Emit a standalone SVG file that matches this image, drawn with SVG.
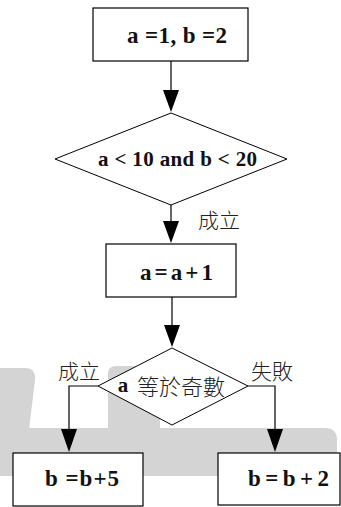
<svg xmlns="http://www.w3.org/2000/svg" width="341" height="507" viewBox="0 0 341 507">
<style>
.box{fill:#fff;stroke:#000;stroke-width:1.2}
.dia{fill:#fff;stroke:#000;stroke-width:1}
.t{font-family:"Liberation Serif","Times New Roman",serif;font-weight:bold;font-size:23px;fill:#111;text-anchor:middle;dominant-baseline:central}
.c{font-family:"Noto Sans CJK TC","Noto Sans CJK SC",sans-serif;font-weight:300;font-size:21px;fill:#222;dominant-baseline:central}
.ln{fill:none;stroke:#000;stroke-width:1.2}
.wm{fill:#d4d4d4}
</style>
<rect width="341" height="507" fill="#fff"/>
<g id="watermark">
<path class="wm" d="M0,368 H25 Q36,368 35,380 L29,430 H0 Z"/>
<path class="wm" d="M116,366 H160 V430 H108 V374 Q108,366 116,366 Z"/>
<path class="wm" d="M0,428 H325 Q337,428 337,440 V476 H0 Z"/>
</g>
<g id="connectors">
<line class="ln" x1="171" y1="61" x2="171" y2="91"/>
<path d="M163,90 L179,90 L171,112 Z"/>
<line class="ln" x1="171" y1="205" x2="171" y2="222"/>
<path d="M163,221 L179,221 L171,243 Z"/>
<line class="ln" x1="172" y1="297" x2="172" y2="326"/>
<path d="M164,325 L180,325 L172,347 Z"/>
<polyline class="ln" points="98,386 69,386 69,430"/>
<path d="M61,429 L77,429 L69,452 Z"/>
<polyline class="ln" points="248,386 275,386 275,430"/>
<path d="M267,429 L283,429 L275,452 Z"/>
</g>
<g id="n1">
<rect class="box" x="93" y="8" width="155" height="53"/>
<text class="t" x="177" y="35" textLength="100" lengthAdjust="spacing">a =1, b =2</text>
</g>
<g id="n2">
<polygon class="dia" points="171,113 287,159 171,205 55,159"/>
<text class="t" x="177.5" y="159" style="font-size:21px" textLength="159" lengthAdjust="spacing">a &lt; 10 and b &lt; 20</text>
</g>
<g id="l1"><text class="c" x="198" y="219">成立</text></g>
<g id="n3">
<rect class="box" x="106" y="244" width="130" height="53"/>
<text class="t" x="176.5" y="272" textLength="73" lengthAdjust="spacing">a = a + 1</text>
</g>
<g id="n4">
<polygon class="dia" points="172,348 248,386 172,425 98,386"/>
<text class="t" x="123" y="385" style="font-size:21px">a</text>
<text class="c" x="137" y="385" style="font-size:22px">等於奇數</text>
</g>
<g id="l2"><text class="c" x="58" y="370">成立</text></g>
<g id="l3"><text class="c" x="251" y="370">失敗</text></g>
<g id="n5">
<rect class="box" x="13" y="453" width="130" height="53"/>
<text class="t" x="82" y="478" textLength="74" lengthAdjust="spacing">b =b+5</text>
</g>
<g id="n6">
<rect class="box" x="218" y="453" width="122" height="52"/>
<text class="t" x="288.5" y="478" textLength="81" lengthAdjust="spacing">b = b + 2</text>
</g>
</svg>
